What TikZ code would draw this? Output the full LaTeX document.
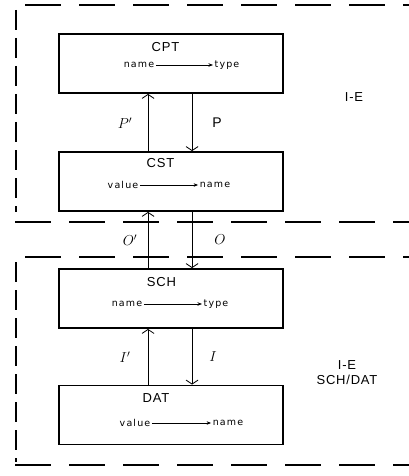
\documentclass[tikz,border=0pt]{standalone}
\usepackage{fontspec}
\setmainfont{Liberation Sans}
\newfontfamily\fldfont[LetterSpace=12]{DejaVu Sans}
\newfontfamily\ttlfont[LetterSpace=6]{Liberation Sans}
\usetikzlibrary{arrows.meta}
\begin{document}
\begin{tikzpicture}[x=1pt,y=-1pt,
 box/.style={draw, line width=1.9pt, minimum width=224pt, minimum height=59pt, inner sep=0pt},
 ttl/.style={font=\ttlfont\fontsize{13}{15}\selectfont, inner sep=0pt},
 fld/.style={font=\fldfont\fontsize{9.5}{11}\selectfont, inner sep=1.5pt},
 lbl/.style={font=\fontsize{14}{16}\selectfont, inner sep=0pt},
 flow/.style={line width=0.8pt, -{Straight Barb[length=4pt,width=12pt]}},
 map/.style={line width=0.7pt, -{Stealth[length=4.5pt,width=3.5pt]}},
 hdash/.style={line width=2.2pt, dash pattern=on 36pt off 18pt},
 vdash/.style={line width=1.8pt, dash pattern=on 20pt off 8pt}]
\useasboundingbox (0,0) rectangle (409,476);

% dashed region borders
\draw[hdash] (25,5) -- (409,5);
\draw[hdash] (15,222) -- (409,222);
\draw[hdash] (25,257) -- (409,257);
\draw[hdash] (15,465) -- (409,465);
\draw[vdash] (16,10) -- (16,212);
\draw[vdash] (16,262) -- (16,462);

% boxes
\node[box] (CPT) at (171,63.5) {};
\node[box] (CST) at (171,181.5) {};
\node[box] (SCH) at (171,298.5) {};
\node[box] (DAT) at (171,415) {};

% box contents
\node[ttl] (cptt) at (165.5,47) {CPT};
\node[fld] (cptn) at (139,65) {name};
\node[fld] (cptty) at (227,65) {type};
\draw[map] (cptn) -- (cptty);

\node[ttl] (cstt) at (160.5,163) {CST};
\node[fld] (cstv) at (123,185) {value};
\node[fld] (cstn) at (215,185) {name};
\draw[map] (cstv) -- (cstn.west);

\node[ttl] (scht) at (161.5,282) {SCH};
\node[fld] (schn) at (127,304) {name};
\node[fld] (schty) at (216,304) {type};
\draw[map] (schn) -- (schty);

\node[ttl] (datt) at (156,398) {DAT};
\node[fld] (datv) at (135,423) {value};
\node[fld] (datn) at (228,423) {name};
\draw[map] (datv) -- (datn);

% vertical flows
\draw[flow] ([xshift=90pt]CST.north west) -- ([xshift=90pt]CPT.south west);
\draw[flow] ([xshift=134pt]CPT.south west) -- ([xshift=134pt]CST.north west);
\draw[flow] ([xshift=90pt]SCH.north west) -- ([xshift=90pt]CST.south west);
\draw[flow] ([xshift=134pt]CST.south west) -- ([xshift=134pt]SCH.north west);
\draw[flow] ([xshift=90pt]DAT.north west) -- ([xshift=90pt]SCH.south west);
\draw[flow] ([xshift=134pt]SCH.south west) -- ([xshift=134pt]DAT.north west);

% flow labels
\node[lbl] (lPp) at (125,123) {$P'$};
\node[lbl] (lP) at (217,123) {P};
\node[lbl] (lOp) at (130,240) {$O'$};
\node[lbl] (lO) at (220,240) {$O$};
\node[lbl] (lIp) at (125,357) {$I'$};
\node[lbl] (lI) at (213,357) {$I$};

% region labels
\node[ttl] (ie1) at (354,97) {I-E};
\node[ttl, align=center] (ie2) at (347,373) {I-E\\SCH/DAT};
\end{tikzpicture}
\end{document}
